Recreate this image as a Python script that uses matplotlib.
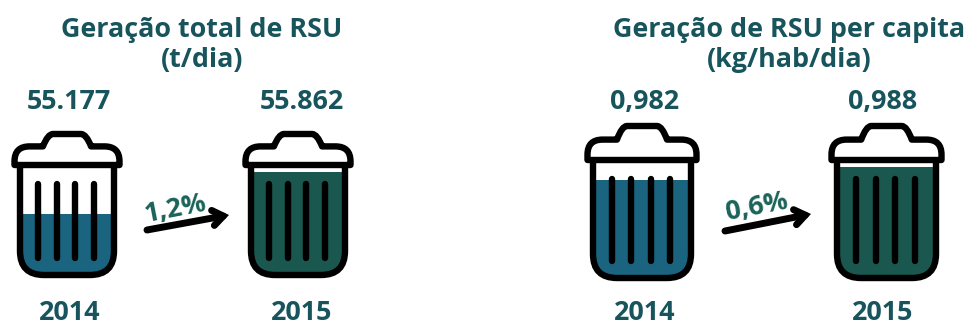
import matplotlib
matplotlib.use('Agg')
import matplotlib.pyplot as plt
from matplotlib.path import Path
from matplotlib.patches import PathPatch, Rectangle

plt.rcParams['font.family'] = ['Open Sans', 'DejaVu Sans']

years = ['2014', '2015', '2014', '2015']
value_labels = ['55.177', '55.862', '0,982', '0,988']
fill_levels = [0.555, 0.936, 0.83, 0.94]
change_labels = ['1,2%', '0,6%']
titles = ['Geração total de RSU\n(t/dia)', 'Geração de RSU per capita\n(kg/hab/dia)']

fill_colors = ['#1a6480', '#1a574f', '#1a6480', '#1a574f']
text_color = '#17545c'
change_color = '#1a6358'

# left, right, lid y, bottom y, handle top y of each bin body
bins = [(20, 114, 165, 275, 134), (251, 345, 165, 275, 134),
        (593, 691, 160, 278, 126), (837, 936, 160, 278, 126)]
value_x = [69, 302, 645, 883]
value_y = [102, 102, 102, 102]
year_x = [70, 302, 645, 883]
title_x = [202, 789]
arrows = [((147, 230), (229, 215)), ((725, 231), (811, 214))]
change_pos = [(175, 209, 11), (757, 207, 11)]

fig = plt.figure(figsize=(9.65, 3.22), dpi=100)
ax = fig.add_axes([0, 0, 1, 1])
ax.set_xlim(0, 965)
ax.set_ylim(322, 0)
ax.axis('off')


def body_path(l, r, top, bot):
    rad = 24
    verts = [(l, top), (l, bot - rad), (l, bot), (l + rad, bot), (r - rad, bot),
             (r, bot), (r, bot - rad), (r, top)]
    codes = [Path.MOVETO, Path.LINETO, Path.CURVE3, Path.CURVE3, Path.LINETO,
             Path.CURVE3, Path.CURVE3, Path.LINETO]
    return Path(verts, codes)


def lid_path(l, r, top, bot):
    ll = l - 5.5
    rr = r + 5.5
    mid = (l + r) / 2
    hw = 0.235 * (r - l)
    shoulder = top + 0.40 * (bot - top)
    verts = [(ll, bot), (ll, shoulder + 15), (ll, shoulder), (ll + 15, shoulder),
             (mid - hw - 2, shoulder), (mid - hw + 3, top), (mid - hw + 8, top),
             (mid + hw - 8, top), (mid + hw - 3, top), (mid + hw + 2, shoulder),
             (rr - 15, shoulder), (rr, shoulder), (rr, shoulder + 15), (rr, bot), (ll, bot)]
    codes = [Path.MOVETO, Path.LINETO, Path.CURVE3, Path.CURVE3,
             Path.LINETO, Path.CURVE3, Path.CURVE3,
             Path.LINETO, Path.CURVE3, Path.CURVE3,
             Path.LINETO, Path.CURVE3, Path.CURVE3, Path.LINETO, Path.CLOSEPOLY]
    return Path(verts, codes)


for i, (l, r, lid, bot, top) in enumerate(bins):
    body = body_path(l, r, lid, bot)
    height = bot - lid
    fill_top = bot - fill_levels[i] * height
    rect = Rectangle((l, fill_top), r - l, bot - fill_top, color=fill_colors[i], lw=0, zorder=1)
    ax.add_patch(rect)
    rect.set_clip_path(PathPatch(body, transform=ax.transData))
    ax.add_patch(PathPatch(body, fc='none', ec='black', lw=4.6, zorder=3))
    ax.add_patch(PathPatch(lid_path(l, r, top, lid), fc='white', ec='black', lw=4.6,
                           joinstyle='round', zorder=3))
    # four vertical bars inside the bin
    for k in range(4):
        x = l + (r - l) * (0.19 + k * 0.2)
        ax.plot([x, x], [lid + 19, bot - 17], color='black', lw=4.6,
                solid_capstyle='round', zorder=2)
    ax.text(value_x[i], value_y[i], value_labels[i], color=text_color, fontsize=19.4,
            fontweight='bold', ha='center', va='center')
    ax.text(year_x[i], 319.5, years[i], color=text_color, fontsize=19.4,
            fontweight='bold', ha='center', va='baseline')

for i, title in enumerate(titles):
    ax.text(title_x[i], 44.5, title, color=text_color, fontsize=19.4, fontweight='bold',
            ha='center', va='center', linespacing=1.2)

for (start, end), label, (x, y, rot) in zip(arrows, change_labels, change_pos):
    ax.annotate('', xy=end, xytext=start,
                arrowprops=dict(arrowstyle='->,head_length=0.75,head_width=0.55',
                                color='black', lw=5, shrinkA=0, shrinkB=0,
                                joinstyle='miter', capstyle='round'), zorder=4)
    ax.text(x, y, label, color=change_color, fontsize=19.4, fontweight='bold',
            rotation=rot, ha='center', va='center', zorder=5)

fig.savefig('out.png', dpi=100)
